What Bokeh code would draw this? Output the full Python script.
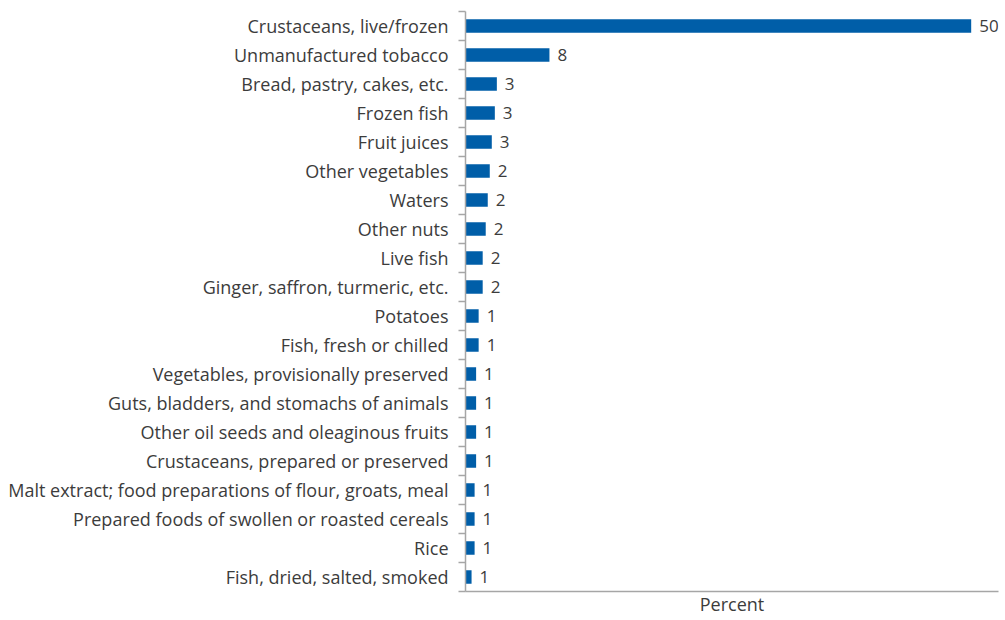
from bokeh.plotting import figure
from bokeh.models import (Range1d, LinearAxis, FixedTicker, ColumnDataSource, LabelSet)
from bokeh.core.properties import value
from bokeh.embed import file_html
from bokeh.resources import INLINE

categories = [
    "Crustaceans, live/frozen",
    "Unmanufactured tobacco",
    "Bread, pastry, cakes, etc.",
    "Frozen fish",
    "Fruit juices",
    "Other vegetables",
    "Waters",
    "Other nuts",
    "Live fish",
    "Ginger, saffron, turmeric, etc.",
    "Potatoes",
    "Fish, fresh or chilled",
    "Vegetables, provisionally preserved",
    "Guts, bladders, and stomachs of animals",
    "Other oil seeds and oleaginous fruits",
    "Crustaceans, prepared or preserved",
    "Malt extract; food preparations of flour, groats, meal",
    "Prepared foods of swollen or roasted cereals",
    "Rice",
    "Fish, dried, salted, smoked",
]
values = [50.0, 8.3, 3.1, 2.9, 2.6, 2.4, 2.2, 2.0, 1.7, 1.7,
          1.3, 1.3, 1.05, 1.05, 1.05, 1.05, 0.9, 0.9, 0.9, 0.6]
value_labels = ["50", "8", "3", "3", "3", "2", "2", "2", "2", "2",
                "1", "1", "1", "1", "1", "1", "1", "1", "1", "1"]

FONT = "Open Sans"
TXT = "#3C3C3C"
AX = "#A6A6A6"
BAR = "#005EA8"

n = len(categories)
ypos = [n - i - 0.5 for i in range(n)]
bounds = list(range(n + 1))
src = ColumnDataSource(dict(y=ypos, val=values, lab=value_labels))

p = figure(width=1000, height=618,
           y_range=Range1d(0, n),
           x_range=Range1d(0, 52.7),
           y_axis_location=None,
           output_backend="svg", toolbar_location=None,
           min_border_left=465, min_border_right=2,
           min_border_top=11, min_border_bottom=23)
p.outline_line_color = None
p.grid.grid_line_color = None
p.background_fill_color = "white"

yaxis = LinearAxis(ticker=FixedTicker(ticks=ypos, minor_ticks=bounds),
                   major_label_overrides={y: c for y, c in zip(ypos, categories)},
                   major_tick_line_color=None,
                   major_tick_out=0, major_tick_in=0,
                   minor_tick_line_color=AX, minor_tick_line_width=1.5,
                   minor_tick_out=7, minor_tick_in=0,
                   axis_line_color=AX, axis_line_width=1.5,
                   major_label_standoff=10,
                   major_label_text_font=FONT,
                   major_label_text_font_size="18px",
                   major_label_text_color=TXT)
p.add_layout(yaxis, "left")

xa = p.xaxis[0]
xa.ticker = FixedTicker(ticks=[])
xa.major_tick_line_color = None
xa.minor_tick_line_color = None
xa.major_label_standoff = 0
xa.axis_line_color = AX
xa.axis_line_width = 1.5
xa.axis_label = "Percent"
xa.axis_label_standoff = 0
xa.axis_label_text_font = FONT
xa.axis_label_text_font_size = "18px"
xa.axis_label_text_font_style = "normal"
xa.axis_label_text_color = TXT

p.hbar(y="y", right="val", left=0, height=0.46, source=src,
       fill_color=BAR, line_color=None)
labels = LabelSet(x="val", y="y", text="lab", source=src, x_offset=8,
                  text_baseline="middle", text_align="left",
                  text_font=value(FONT), text_font_size=value("17px"),
                  text_color=TXT)
p.add_layout(labels)

open("out.html", "w").write(file_html(p, INLINE))
